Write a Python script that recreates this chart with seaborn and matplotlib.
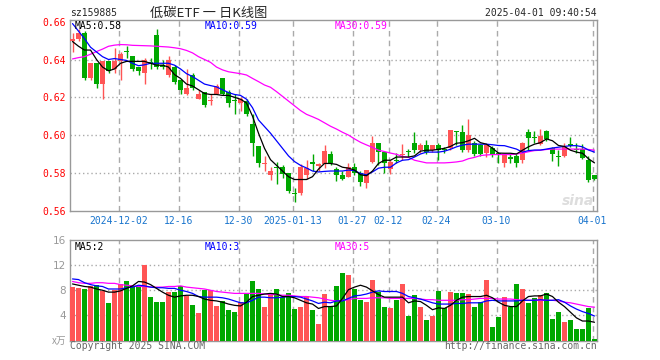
import numpy as np
import pandas as pd
import seaborn as sns
import matplotlib
matplotlib.use('Agg')
import matplotlib.pyplot as plt

# ---- data (sz159885, daily) ----
opens = [0.650, 0.651, 0.654, 0.630, 0.638, 0.627, 0.639, 0.635, 0.639, 0.6445,
         0.642, 0.636, 0.633, 0.6385, 0.653, 0.637, 0.632, 0.636, 0.629, 0.622,
         0.632, 0.619, 0.623, 0.618, 0.622, 0.630, 0.623, 0.6185, 0.617, 0.618,
         0.606, 0.594, 0.5845, 0.579, 0.583, 0.583, 0.580, 0.5695, 0.5695, 0.579,
         0.586, 0.5835, 0.5847, 0.590, 0.582, 0.579, 0.578, 0.583, 0.580, 0.5745,
         0.586, 0.596, 0.591, 0.582, 0.587, 0.5893, 0.5916, 0.5957, 0.592, 0.595,
         0.592, 0.595, 0.5927, 0.593, 0.602, 0.6017, 0.592, 0.596, 0.595, 0.5905,
         0.593, 0.5904, 0.5855, 0.5884, 0.5887, 0.5867, 0.6017, 0.599, 0.5952, 0.6024,
         0.593, 0.589, 0.589, 0.5952, 0.5922, 0.5927, 0.5867, 0.5787]
highs = [0.654, 0.656, 0.655, 0.638, 0.638, 0.639, 0.639, 0.646, 0.644, 0.647,
         0.642, 0.636, 0.641, 0.641, 0.656, 0.640, 0.642, 0.637, 0.629, 0.635,
         0.633, 0.624, 0.623, 0.622, 0.627, 0.630, 0.624, 0.622, 0.620, 0.619,
         0.611, 0.594, 0.589, 0.583, 0.586, 0.584, 0.580, 0.572, 0.5845, 0.587,
         0.590, 0.5853, 0.5946, 0.5915, 0.583, 0.581, 0.585, 0.585, 0.581, 0.5815,
         0.5995, 0.596, 0.591, 0.587, 0.5904, 0.5952, 0.5926, 0.6017, 0.596, 0.5973,
         0.595, 0.596, 0.5938, 0.6026, 0.602, 0.6055, 0.6085, 0.597, 0.5955, 0.5955,
         0.594, 0.591, 0.590, 0.590, 0.590, 0.5966, 0.603, 0.602, 0.603, 0.6025,
         0.5935, 0.592, 0.596, 0.599, 0.596, 0.5955, 0.5887, 0.579]
lows = [0.644, 0.650, 0.629, 0.629, 0.625, 0.619, 0.633, 0.633, 0.629, 0.641,
        0.634, 0.632, 0.627, 0.635, 0.635, 0.635, 0.631, 0.627, 0.622, 0.621,
        0.624, 0.619, 0.615, 0.616, 0.622, 0.621, 0.615, 0.611, 0.613, 0.610,
        0.589, 0.583, 0.581, 0.5765, 0.574, 0.5775, 0.5695, 0.5647, 0.5685, 0.577,
        0.581, 0.5812, 0.5826, 0.584, 0.5755, 0.576, 0.578, 0.579, 0.573, 0.572,
        0.585, 0.584, 0.580, 0.5795, 0.585, 0.5867, 0.5884, 0.5904, 0.5905, 0.590,
        0.591, 0.587, 0.5904, 0.592, 0.595, 0.591, 0.591, 0.589, 0.589, 0.5885,
        0.5884, 0.585, 0.583, 0.5853, 0.5832, 0.585, 0.592, 0.596, 0.595, 0.597,
        0.5863, 0.5836, 0.5885, 0.5938, 0.5904, 0.5875, 0.575, 0.576]
closes = [0.651, 0.654, 0.630, 0.638, 0.627, 0.639, 0.634, 0.639, 0.643, 0.644,
          0.635, 0.634, 0.640, 0.638, 0.636, 0.636, 0.640, 0.628, 0.624, 0.625,
          0.625, 0.622, 0.616, 0.6185, 0.626, 0.622, 0.617, 0.618, 0.619, 0.611,
          0.596, 0.585, 0.585, 0.581, 0.5825, 0.5795, 0.5705, 0.569, 0.583, 0.5825,
          0.5847, 0.5847, 0.5914, 0.585, 0.579, 0.577, 0.583, 0.580, 0.575, 0.5815,
          0.596, 0.591, 0.585, 0.586, 0.5865, 0.5897, 0.5912, 0.5921, 0.595, 0.591,
          0.595, 0.592, 0.5921, 0.6025, 0.6015, 0.592, 0.6003, 0.590, 0.590, 0.595,
          0.5896, 0.5897, 0.5896, 0.5876, 0.5853, 0.596, 0.5983, 0.5985, 0.5995, 0.5978,
          0.590, 0.5885, 0.5938, 0.5944, 0.592, 0.588, 0.5764, 0.577]

ma5 = [0.6495, 0.647, 0.645, 0.645, 0.640, 0.636, 0.634, 0.635, 0.638, 0.639,
       0.639, 0.639, 0.639, 0.638, 0.637, 0.637, 0.636, 0.632, 0.630, 0.627,
       0.626, 0.624, 0.622, 0.6215, 0.6215, 0.621, 0.621, 0.620, 0.619, 0.617,
       0.610, 0.601, 0.593, 0.587, 0.584, 0.581, 0.578, 0.5765, 0.5765, 0.5765,
       0.578, 0.582, 0.585, 0.585, 0.5845, 0.583, 0.5825, 0.5815, 0.579, 0.5785,
       0.581, 0.585, 0.5867, 0.5867, 0.5884, 0.5884, 0.5884, 0.589, 0.5915, 0.592,
       0.592, 0.5925, 0.593, 0.594, 0.5957, 0.596, 0.597, 0.5983, 0.596, 0.5952,
       0.593, 0.5905, 0.5904, 0.5904, 0.590, 0.592, 0.5938, 0.5952, 0.596, 0.598,
       0.597, 0.5945, 0.594, 0.592, 0.591, 0.5904, 0.5875, 0.5853]
ma10 = [0.659, 0.655, 0.651, 0.6465, 0.644, 0.6415, 0.640, 0.6405, 0.640, 0.6395,
        0.638, 0.6367, 0.6372, 0.638, 0.638, 0.638, 0.638, 0.637, 0.635, 0.6325,
        0.631, 0.629, 0.627, 0.6262, 0.6255, 0.624, 0.6225, 0.6215, 0.621, 0.619,
        0.6145, 0.608, 0.6045, 0.601, 0.597, 0.593, 0.589, 0.586, 0.584, 0.5826,
        0.581, 0.5805, 0.5808, 0.581, 0.581, 0.581, 0.5815, 0.5812, 0.5797, 0.579,
        0.5805, 0.5825, 0.583, 0.583, 0.5853, 0.5867, 0.587, 0.5884, 0.590, 0.591,
        0.591, 0.591, 0.5915, 0.5925, 0.5938, 0.5947, 0.5952, 0.5952, 0.5952, 0.5952,
        0.5949, 0.5945, 0.5944, 0.5935, 0.5926, 0.591, 0.5918, 0.5921, 0.5921, 0.5926,
        0.5932, 0.5936, 0.594, 0.5944, 0.5944, 0.5938, 0.5921, 0.591]
ma30 = [0.6403, 0.641, 0.6415, 0.6428, 0.6442, 0.6455, 0.647, 0.6476, 0.6479, 0.6478,
        0.6475, 0.6474, 0.6473, 0.6472, 0.647, 0.6468, 0.6466, 0.6462, 0.6457, 0.6448,
        0.6435, 0.6415, 0.640, 0.6385, 0.636, 0.6345, 0.6335, 0.633, 0.6325, 0.6318,
        0.630, 0.6283, 0.6265, 0.6253, 0.623, 0.6205, 0.618, 0.6155, 0.613, 0.611,
        0.6097, 0.6083, 0.6065, 0.6047, 0.6032, 0.6015, 0.600, 0.598, 0.5962, 0.5948,
        0.5935, 0.592, 0.5913, 0.5905, 0.5898, 0.5887, 0.5882, 0.5867, 0.586, 0.5853,
        0.5853, 0.5853, 0.5853, 0.5855, 0.5858, 0.5863, 0.5875, 0.5882, 0.5892, 0.5895,
        0.5897, 0.5897, 0.5897, 0.5897, 0.590, 0.5905, 0.5912, 0.5918, 0.592, 0.5924,
        0.5926, 0.5926, 0.5926, 0.5926, 0.5926, 0.5926, 0.5924, 0.592]

volume = [8.5, 8.4, 8.2, 8.6, 8.8, 7.9, 5.9, 8.0, 9.0, 9.4,
          8.6, 8.6, 12.0, 6.9, 6.2, 6.1, 7.7, 7.7, 8.6, 7.1,
          5.6, 4.4, 8.0, 8.0, 5.5, 6.3, 4.8, 4.5, 6.2, 7.5,
          9.4, 8.2, 5.3, 7.5, 8.2, 6.9, 7.5, 5.0, 5.4, 7.1,
          4.8, 2.6, 7.4, 5.4, 8.6, 10.8, 10.4, 8.2, 6.4, 6.1,
          9.6, 7.7, 5.4, 5.1, 6.4, 9.0, 3.9, 7.2, 5.3, 3.2,
          3.9, 7.9, 5.1, 7.7, 7.5, 7.5, 7.4, 5.3, 6.1, 9.6,
          2.1, 3.8, 6.9, 5.3, 9.0, 8.2, 5.9, 6.7, 7.2, 7.5,
          3.5, 4.6, 3.0, 3.2, 1.8, 1.8, 5.1, 0.2]
vma5 = [9.0, 8.8, 8.6, 8.5, 8.2, 8.0, 7.7, 7.7, 7.9, 8.3,
        8.7, 9.4, 9.3, 8.9, 8.3, 7.7, 7.2, 6.9, 7.1, 7.2,
        7.2, 7.0, 6.6, 6.4, 6.3, 6.1, 5.8, 5.6, 5.5, 6.1,
        7.0, 7.2, 7.4, 7.5, 7.4, 7.0, 7.0, 6.8, 6.4, 6.0,
        5.8, 5.1, 5.4, 5.4, 5.5, 6.7, 8.1, 8.5, 8.8, 8.5,
        7.9, 7.3, 6.9, 6.9, 6.9, 6.9, 6.0, 6.3, 6.2, 5.6,
        4.9, 5.2, 5.1, 5.6, 6.4, 6.9, 7.0, 7.0, 7.0, 7.2,
        6.8, 6.1, 5.6, 5.4, 5.4, 6.3, 7.0, 7.1, 7.1, 7.4,
        7.0, 6.1, 5.4, 4.5, 3.6, 3.1, 3.1, 2.9]
vma10 = [9.8, 9.7, 9.2, 8.9, 8.7, 8.6, 8.2, 8.2, 8.2, 8.4,
         8.5, 8.8, 8.7, 8.5, 8.4, 8.4, 8.3, 8.3, 8.0, 7.8,
         7.5, 7.0, 6.9, 6.9, 6.9, 6.8, 6.6, 6.3, 6.0, 6.0,
         6.4, 6.9, 6.9, 6.8, 6.8, 6.9, 7.0, 7.0, 6.9, 6.6,
         6.3, 5.9, 6.1, 6.0, 6.3, 6.3, 6.7, 7.1, 7.2, 7.4,
         7.7, 7.9, 7.8, 7.8, 7.8, 7.5, 7.0, 6.8, 6.6, 6.3,
         6.0, 5.8, 5.8, 5.8, 5.9, 5.9, 6.0, 6.0, 6.0, 6.3,
         6.4, 6.3, 6.3, 6.3, 6.3, 6.4, 6.4, 6.4, 6.5, 6.4,
         6.4, 6.5, 6.1, 5.5, 5.0, 4.6, 4.3, 3.9]
vma30 = [9.4, 9.2, 9.1, 9.1, 9.2, 9.2, 9.1, 9.1, 8.9, 8.8,
         8.7, 8.6, 8.6, 8.5, 8.5, 8.5, 8.6, 8.6, 8.7, 8.5,
         8.4, 8.3, 8.2, 8.0, 7.8, 7.7, 7.6, 7.5, 7.5, 7.5,
         7.5, 7.5, 7.4, 7.3, 7.3, 7.2, 7.2, 7.1, 7.0, 7.0,
         6.9, 6.8, 6.6, 6.4, 6.3, 6.4, 6.5, 6.7, 6.7, 6.7,
         6.8, 6.8, 6.8, 6.7, 6.7, 6.7, 6.7, 6.7, 6.6, 6.5,
         6.5, 6.4, 6.4, 6.4, 6.4, 6.5, 6.5, 6.6, 6.7, 6.7,
         6.7, 6.6, 6.6, 6.6, 6.5, 6.4, 6.4, 6.4, 6.4, 6.4,
         6.4, 6.3, 6.1, 6.0, 5.8, 5.6, 5.4, 5.3]

tick_idx = [8, 18, 28, 37, 47, 53, 61, 71, 87]
tick_labels = ['2024-12-02', '12-16', '12-30', '2025-01-13', '01-27',
               '02-12', '02-24', '03-10', '04-01']
price_ticks = [0.56, 0.58, 0.60, 0.62, 0.64, 0.66]
vol_ticks = [4, 8, 12, 16]

UP = '#FF5555'
DOWN = '#00A800'
GRID = '#AAAAAA'
EDGE = '#999999'

sns.set_style('white')
plt.rcParams['font.family'] = ['DejaVu Sans Mono', 'Noto Sans CJK SC']

df = pd.DataFrame({'open': opens, 'high': highs, 'low': lows, 'close': closes,
                   'vol': volume, 'ma5': ma5, 'ma10': ma10, 'ma30': ma30,
                   'vma5': vma5, 'vma10': vma10, 'vma30': vma30})
df['i'] = np.arange(len(df))
df['dir'] = np.where(df['close'] > df['open'], 'up', 'down')
pal = {'up': UP, 'down': DOWN}

fig = plt.figure(figsize=(6.6, 3.6), dpi=100)
ax = fig.add_axes([70/660, 1-210.7/360, 527/660, 190.7/360])
axv = fig.add_axes([70/660, 1-340.5/360, 527/660, 100.5/360])

# candles
cols = df['dir'].map(pal)
ax.vlines(df['i'], df['low'], df['high'], colors=cols, linewidth=1, zorder=3)
body_lo = df[['open', 'close']].min(axis=1)
body_h = (df['close'] - df['open']).abs().clip(lower=0.0005)
ax.bar(df['i'], body_h, bottom=body_lo, width=0.83, color=cols, linewidth=0, zorder=4)

for col, c in [('ma30', '#FF00FF'), ('ma10', '#0000FF'), ('ma5', '#000000')]:
    sns.lineplot(data=df, x='i', y=col, ax=ax, color=c, linewidth=0.9, zorder=5)

# volume
sns.barplot(data=df, x='i', y='vol', hue='dir', palette=pal, ax=axv, width=0.83,
            native_scale=True, dodge=False, legend=False, linewidth=0,
            saturation=1, zorder=3)
for col, c in [('vma30', '#FF00FF'), ('vma10', '#0000FF'), ('vma5', '#000000')]:
    sns.lineplot(data=df, x='i', y=col, ax=axv, color=c, linewidth=0.9, zorder=5)

xl = (-0.42, len(df) - 1 + 0.42)
for a in (ax, axv):
    a.set_xlim(*xl)
    a.set_xlabel('')
    a.set_ylabel('')
    for s in a.spines.values():
        s.set_color(EDGE)
        s.set_linewidth(1)
    for t in tick_idx:
        a.axvline(t - 0.33, color=GRID, linestyle=(0, (4, 3)), linewidth=1, zorder=1)
    a.tick_params(length=0)

ax.set_ylim(0.5603, 0.6609)
ax.set_yticks(price_ticks)
ax.set_yticklabels(['%.2f' % v for v in price_ticks], color='#FF0000', fontsize=7)
for v in price_ticks[1:-1]:
    ax.axhline(v, color=GRID, linestyle=(0, (1, 2)), linewidth=1, zorder=1)
ax.set_xticks([t - 0.33 for t in tick_idx])
ax.set_xticklabels(tick_labels, color='#1874CD', fontsize=7)
ax.tick_params(axis='y', pad=3)
ax.tick_params(axis='x', pad=4)

axv.set_ylim(0, 16)
axv.set_yticks(vol_ticks)
axv.set_yticklabels([str(v) for v in vol_ticks], color=EDGE, fontsize=7.5,
                    family='DejaVu Sans')
for v in vol_ticks[:-1]:
    axv.axhline(v, color=GRID, linestyle=(0, (1, 2)), linewidth=1, zorder=1)
axv.set_xticks([])
axv.tick_params(axis='y', pad=3)

# texts
fig.text(70/660, 1-13.5/360, 'sz159885', fontsize=7, va='center', ha='left')
fig.text(209/660, 1-13/360, '低碳ETF 一 日K线图', fontsize=9.5, va='center', ha='center',
         family=['Noto Sans CJK SC', 'DejaVu Sans'])
fig.text(597/660, 1-13.5/360, '2025-04-01 09:40:54', fontsize=7, va='center', ha='right')

fig.text(75/660, 1-25.7/360, 'MA5:0.58', fontsize=7, va='center', color='#000000')
fig.text(205/660, 1-25.7/360, 'MA10:0.59', fontsize=7, va='center', color='#0000FF')
fig.text(335/660, 1-25.7/360, 'MA30:0.59', fontsize=7, va='center', color='#FF00FF')
fig.text(75/660, 1-246.7/360, 'MA5:2', fontsize=7, va='center', color='#000000')
fig.text(205/660, 1-246.7/360, 'MA10:3', fontsize=7, va='center', color='#0000FF')
fig.text(335/660, 1-246.7/360, 'MA30:5', fontsize=7, va='center', color='#FF00FF')

fig.text(66/660, 1-341/360, 'x万', fontsize=7, va='center', ha='right', color=EDGE,
         family=['Noto Sans CJK SC', 'DejaVu Sans'])
fig.text(70/660, 1-346/360, 'Copyright 2025 SINA.COM', fontsize=7, va='center',
         color='#666666')
fig.text(597/660, 1-346/360, 'http://finance.sina.com.cn', fontsize=7, va='center',
         ha='right', color='#666666')
fig.text(578/660, 1-201/360, 'sina', fontsize=10, va='center', ha='center',
         color='#DDDDDD', fontstyle='italic', fontweight='bold', family='DejaVu Sans')

fig.savefig('out.png', dpi=100)
